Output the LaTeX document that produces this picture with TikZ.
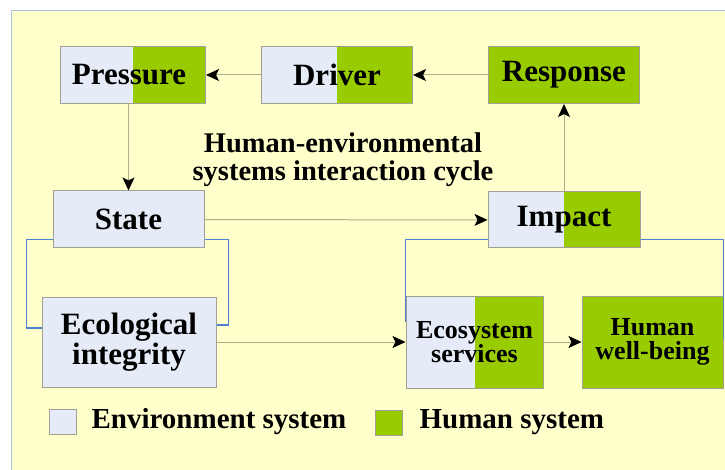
\documentclass[tikz,border=0pt]{standalone}
\usepackage{fontspec}
\setmainfont{Liberation Serif}
\usetikzlibrary{calc}
\usetikzlibrary{arrows.meta}
\usetikzlibrary{positioning}

\definecolor{bgyellow}{RGB}{255,255,204}
\definecolor{frameblue}{RGB}{170,195,230}
\definecolor{envblue}{RGB}{229,235,247}
\definecolor{hgreen}{RGB}{153,204,0}
\definecolor{boxgray}{RGB}{160,160,150}
\definecolor{linegray}{RGB}{175,175,140}
\definecolor{bracketblue}{RGB}{79,129,210}

\begin{document}
\begin{tikzpicture}[x=1pt,y=-1pt,
  box/.style={draw=boxgray, line width=1pt, fill=envblue, inner sep=0pt, align=center,
    font=\bfseries\fontsize{31}{26}\selectfont},
  halfbox/.style={box, path picture={
    \fill[hgreen] (path picture bounding box.north) rectangle (path picture bounding box.south east);}},
  humbox/.style={box, fill=hgreen},
  small/.style={font=\bfseries\fontsize{26}{24}\selectfont},
  conn/.style={draw=linegray, line width=1pt, -{Stealth[length=13pt,width=12pt,inset=3pt,color=black]}},
  bracket/.style={draw=bracketblue, line width=1.5pt},
  key/.style={draw=boxgray, line width=.8pt, minimum width=27pt, minimum height=25pt, inner sep=0pt},
  keytext/.style={inner sep=0pt, font=\bfseries\fontsize{29}{29}\selectfont}]
\useasboundingbox (0,0) rectangle (725,470);
\fill[white] (0,0) rectangle (725,470);
\fill[bgyellow] (11,11) rectangle (725,470);
\draw[frameblue, line width=1pt] (11,470) -- (11,11) -- (725,11);

% top row
\node[halfbox, minimum width=145pt, minimum height=57pt] (Pressure) at (133,75) {Pressure\hspace*{8pt}};
\node[halfbox, minimum width=151pt, minimum height=57pt] (Driver) at (337,75) {Driver};
\node[humbox, minimum width=151pt, minimum height=57pt] (Response) at (564,75) {Response};

% middle row
\node[box, minimum width=151pt, minimum height=57pt] (State) at (128.5,219.5) {State};
\node[halfbox, minimum width=152pt, minimum height=56pt] (Impact) at (564,220) {Impact};
\node[align=center, inner sep=0pt, font=\bfseries\fontsize{28.5}{28}\selectfont] (title) at (343,160)
  {Human-environmental\\systems interaction cycle};

% bottom row
\node[box, minimum width=174pt, minimum height=90pt] (eco) at (129,342) {Ecological\\integrity};
\node[halfbox, small, minimum width=137pt, minimum height=92pt] (serv) at (474.5,342) {Ecosystem\\services};
\node[humbox, small, minimum width=141pt, minimum height=92pt] (wellb) at (652.5,342) {Human\\well-being};

% arrows
\draw[conn] (Response) -- (Driver);
\draw[conn] (Driver) -- (Pressure);
\draw[conn] (Pressure.south -| State.north) -- (State.north);
\draw[conn] (State) -- (Impact);
\draw[conn] (Impact) -- (Response);
\draw[conn] (eco) -- (serv);
\draw[conn] (serv) -- (wellb);

% brackets
\draw[bracket] ($(State.south west)+(0,-9)$) -- ++(-26,0) |- ($(eco.west)+(0,-14)$);
\draw[bracket] ($(State.south east)+(0,-9)$) -- ++(24,0) |- ($(eco.east)+(0,-17)$);
\draw[bracket] ($(Impact.south west)+(0,-9)$) -| ($(serv.north west)+(0,26)$);
\draw[bracket] ($(Impact.south east)+(0,-9)$) -| ($(wellb.north east)+(0,44)$);

% legend
\node[key, fill=envblue] (envkey) at (62.5,421.5) {};
\node[keytext, right=15pt of envkey] (envtext) {Environment system};
\node[key, fill=hgreen] (humkey) at (388.5,422.5) {};
\node[keytext, right=17pt of humkey] (humtext) {Human system};
\end{tikzpicture}
\end{document}
